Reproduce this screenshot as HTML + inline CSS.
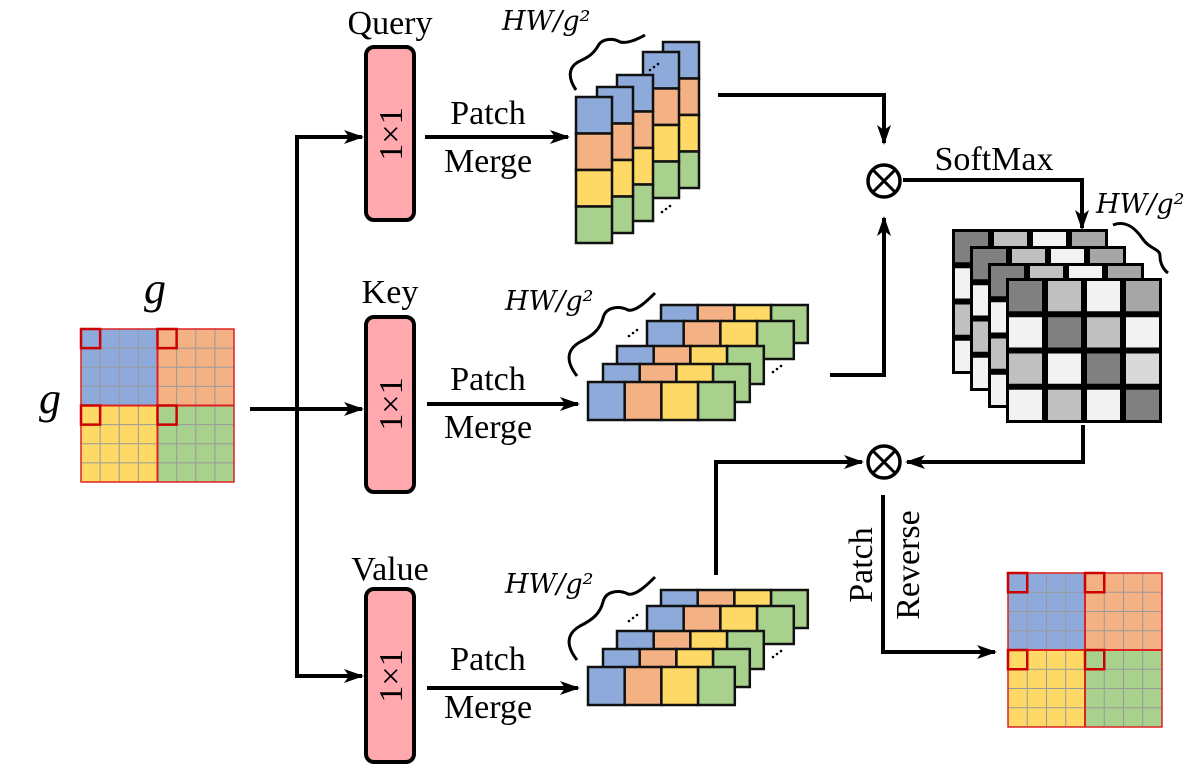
<!DOCTYPE html>
<html><head><meta charset="utf-8"><style>
html,body{margin:0;padding:0;background:#fff;}
svg{display:block;}
text{font-family:"Liberation Serif",serif;fill:#000;}
</style></head><body>
<svg id="s" width="1196" height="772" viewBox="0 0 1196 772" xmlns="http://www.w3.org/2000/svg">
<defs>
<marker id="ah" viewBox="0 0 20 14" refX="18" refY="7" markerWidth="20" markerHeight="14" markerUnits="userSpaceOnUse" orient="auto">
<path d="M0,0 L20,7 L0,14 L5,7 Z" fill="#000"/>
</marker>
</defs>
<g id="content"></g>
<g fill="none" stroke="#000" stroke-width="4">
<line x1="250" y1="409" x2="362" y2="409" marker-end="url(#ah)"/>
<polyline points="362,137 297,137 297,676 362,676" marker-end="url(#ah)"/>
<line x1="297" y1="137" x2="362" y2="137" marker-end="url(#ah)"/>
<line x1="425" y1="137" x2="568" y2="137" marker-end="url(#ah)"/>
<line x1="427" y1="404" x2="578" y2="404" marker-end="url(#ah)"/>
<line x1="427" y1="688" x2="578" y2="688" marker-end="url(#ah)"/>
<polyline points="718,95 884,95 884,143" marker-end="url(#ah)"/>
<polyline points="830,375 884,375 884,218" marker-end="url(#ah)"/>
<polyline points="903,180 1082,180 1082,228" marker-end="url(#ah)"/>
<polyline points="1083,425 1083,462 907,462" marker-end="url(#ah)"/>
<polyline points="716,575 716,462 862,462" marker-end="url(#ah)"/>
<polyline points="883,495 883,652 995,652" marker-end="url(#ah)"/>
<circle cx="884" cy="181" r="16" stroke-width="3.5"/>
<line x1="873" y1="170" x2="895" y2="192" stroke-width="3"/><line x1="895" y1="170" x2="873" y2="192" stroke-width="3"/>
<circle cx="884" cy="462" r="16" stroke-width="3.5"/>
<line x1="873" y1="451" x2="895" y2="473" stroke-width="3"/><line x1="895" y1="451" x2="873" y2="473" stroke-width="3"/>
<path d="M576,90 C568,78 568,68 578,62 C586,58 592,56 598,46 C602,38 614,38 620,42 C628,44 640,38 645,35" stroke-width="3"/>
<path d="M577,376 C566,362 566,350 580,342 C592,336 600,330 603,318 C606,306 620,306 628,310 C636,312 648,300 655,293" stroke-width="3"/>
<path d="M577,660 C566,646 566,634 580,626 C592,620 600,614 603,602 C606,590 620,590 628,594 C636,596 648,584 655,577" stroke-width="3"/>
<path d="M1113,225 C1125,220 1135,228 1142,238 C1150,250 1160,248 1160,256 C1160,264 1164,270 1168,273" stroke-width="3"/>
</g>
<g stroke="#000" stroke-width="4" fill="#ffa8ae">
<rect x="366" y="47" width="48" height="173" rx="8"/>
<rect x="366" y="317" width="48" height="175" rx="8"/>
<rect x="366" y="589" width="48" height="173" rx="8"/>
</g>
<g font-size="34">
<text transform="translate(402,134) rotate(-90)" text-anchor="middle">1×1</text>
<text transform="translate(402,404) rotate(-90)" text-anchor="middle">1×1</text>
<text transform="translate(402,676) rotate(-90)" text-anchor="middle">1×1</text>
<text x="390" y="34" text-anchor="middle">Query</text>
<text x="390" y="303" text-anchor="middle">Key</text>
<text x="390" y="580" text-anchor="middle">Value</text>
<text x="488" y="124" text-anchor="middle">Patch</text>
<text x="488" y="172" text-anchor="middle">Merge</text>
<text x="488" y="390" text-anchor="middle">Patch</text>
<text x="488" y="438" text-anchor="middle">Merge</text>
<text x="488" y="670" text-anchor="middle">Patch</text>
<text x="488" y="718" text-anchor="middle">Merge</text>
<text x="994" y="170" text-anchor="middle">SoftMax</text>
<text transform="translate(872,565) rotate(-90)" text-anchor="middle">Patch</text>
<text transform="translate(919,565) rotate(-90)" text-anchor="middle">Reverse</text>
</g>
<g font-size="27" font-style="italic">
<text x="502" y="30" style="font-family:'DejaVu Serif',serif">HW/g²</text>
<text x="505" y="310" style="font-family:'DejaVu Serif',serif">HW/g²</text>
<text x="505" y="593" style="font-family:'DejaVu Serif',serif">HW/g²</text>
<text x="1096" y="213" style="font-family:'DejaVu Serif',serif">HW/g²</text>
</g>
<g font-size="44" font-style="italic">
<text x="155" y="303" text-anchor="middle">g</text>
<text x="50" y="413" text-anchor="middle">g</text>
</g>
<script>
var NS="http://www.w3.org/2000/svg",G=document.getElementById("content");
function R(x,y,w,h,f,s,sw){var r=document.createElementNS(NS,"rect");r.setAttribute("x",x);r.setAttribute("y",y);r.setAttribute("width",w);r.setAttribute("height",h);r.setAttribute("fill",f);r.setAttribute("stroke",s||"none");r.setAttribute("stroke-width",sw||0);G.appendChild(r);}
var C=["#8eaadb","#f4b183","#ffd966","#a9d18e"];
function grid(x,y,sz){var c=sz/8;
 for(var q=0;q<4;q++){var qx=x+(q%2)*4*c,qy=y+Math.floor(q/2)*4*c;R(qx,qy,4*c,4*c,C[q]);}
 for(var i=1;i<8;i++){R(x+i*c-0.5,y,1,sz,"#999");R(x,y+i*c-0.5,sz,1,"#999");}
 R(x,y,sz,sz,"none","#d22",1.5);R(x+4*c-1,y,2,sz,"#d22");R(x,y+4*c-1,sz,2,"#d22");
 [[0,0],[4,0],[0,4],[4,4]].forEach(function(p){R(x+p[0]*c,y+p[1]*c,c,c,"none","#c00",2.5);});}
grid(81,329,153);grid(1008,573,154);
[[663,42],[643,52],[617,75],[597,87],[576,97]].forEach(function(p){for(var i=0;i<4;i++)R(p[0],p[1]+i*36.5,36,36.5,C[i],"#111",2.5);});
function rows(dy){[[661,305],[647,321],[617,346],[603,364],[588,382]].forEach(function(p){for(var i=0;i<4;i++)R(p[0]+i*36.7,p[1]+dy,36.7,38,C[i],"#111",2.5);});}
rows(0);rows(285);
var P=[["#808080","#c0c0c0","#f2f2f2","#a6a6a6"],["#f2f2f2","#808080","#c0c0c0","#f2f2f2"],["#c0c0c0","#f2f2f2","#808080","#d9d9d9"],["#f2f2f2","#c0c0c0","#f2f2f2","#808080"]];
[[952,229],[970,246],[988,263],[1006,278]].forEach(function(p){R(p[0],p[1],156,145,"#000");var cw=156/4,ch=145/4;
 for(var r=0;r<4;r++)for(var c=0;c<4;c++)R(p[0]+c*cw+3,p[1]+r*ch+3,cw-6,ch-6,P[r][c]);});
function dots(x,y){for(var i=0;i<3;i++){var e=document.createElementNS(NS,"circle");e.setAttribute("cx",x+i*4);e.setAttribute("cy",y-i*3);e.setAttribute("r",1.3);G.appendChild(e);}}
dots(650,70);dots(662,212);dots(629,336);dots(773,372);dots(629,621);dots(773,657);
</script>
</svg>
</body></html>
